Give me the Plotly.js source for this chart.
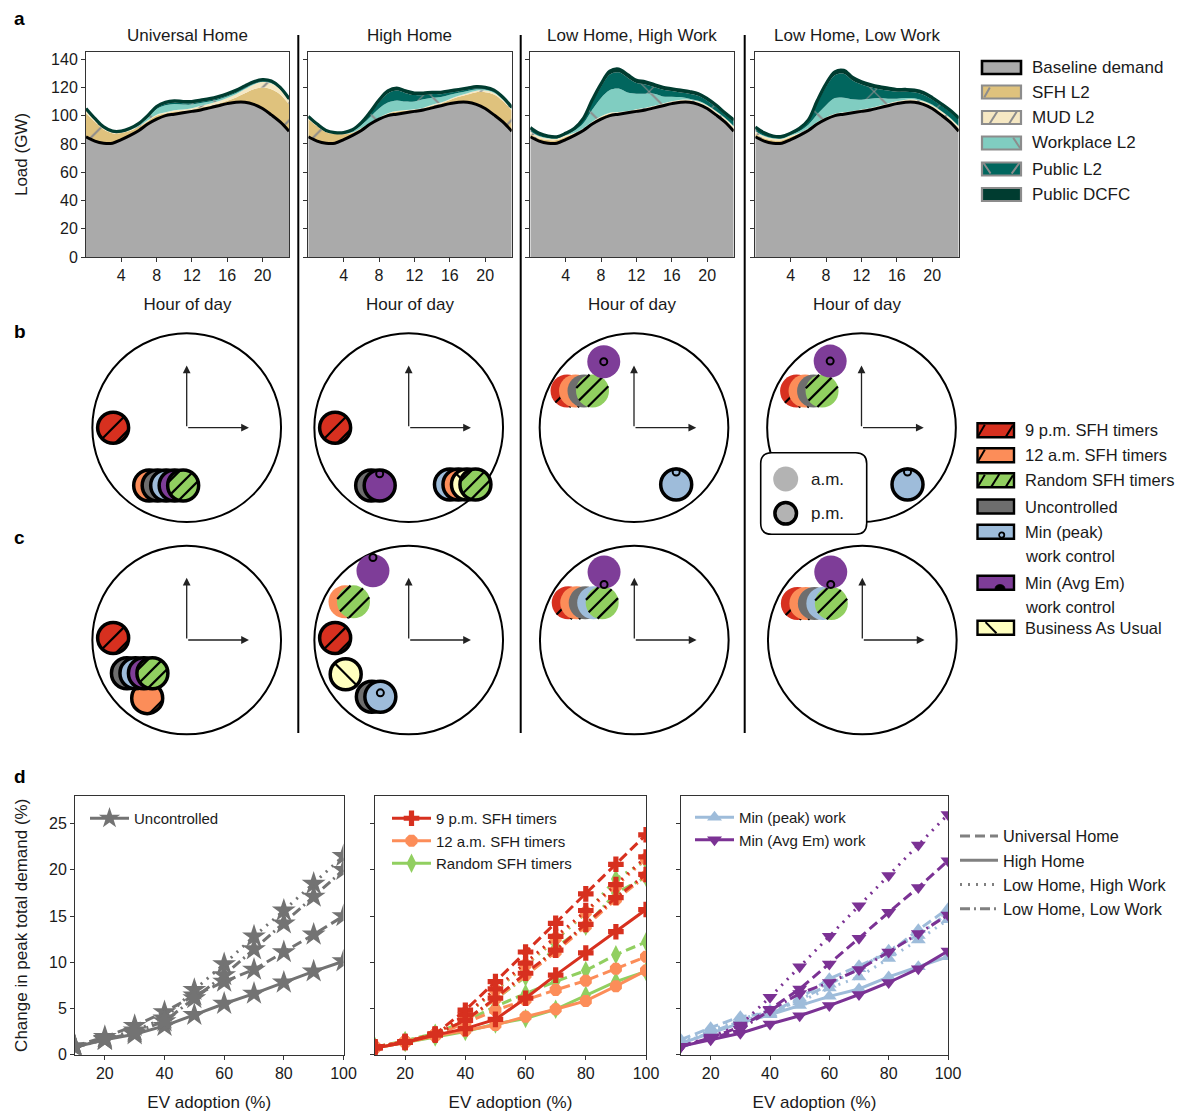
<!DOCTYPE html>
<html>
<head>
<meta charset="utf-8">
<script src="https://cdn.plot.ly/plotly-3.0.1.min.js"></script>
<style>html,body{margin:0;padding:0;background:#fff}</style>
</head>
<body>
<div id="chart" style="width:1181px;height:1112px"></div>
<script>
// ---------------- Panel a: hourly load by charger type (GW) ----------------
const hours = [0,1,2,3,4,5,6,7,8,9,10,11,12,13,14,15,16,17,18,19,20,21,22,23];
const scenarioTitles = ['Universal Home', 'High Home', 'Low Home, High Work', 'Low Home, Low Work'];
const baselineDemand = [85,82,80.5,80.5,83,86,89.5,94,97.5,100,101,102,103,104,105.5,107,108.5,109.5,109.5,108,105,100.5,95.5,89];

const sfhUH  = [16.7,13.6,9.7,7.1,4.7,3.3,2.6,2.1,2.5,1.5,1.9,1.3,1.2,1.7,1.5,1.6,2.1,3.4,6.3,10.6,14.9,18.2,19.5,19.0];
const mudUH  = [2.0,1.5,1.0,0.8,0.6,0.5,0.5,0.6,0.7,0.8,0.9,1.0,1.1,1.2,1.4,1.6,1.9,2.3,2.8,3.3,3.8,4.0,3.5,2.6];
const workUH = [0.2,0.1,0.1,0.1,0.2,0.5,1.0,2.0,4.0,5.0,4.5,3.5,2.5,2.0,1.5,1.2,1.0,0.8,0.6,0.4,0.3,0.3,0.2,0.2];
const pubUH  = [0.3,0.2,0.2,0.1,0.1,0.2,0.3,0.5,0.8,1.0,1.0,1.0,1.0,0.9,0.9,0.9,0.8,0.8,0.7,0.6,0.5,0.5,0.4,0.3];
const dcfcUH = [0.8,0.6,0.5,0.4,0.4,0.5,0.6,0.8,1.0,1.2,1.2,1.2,1.2,1.2,1.2,1.2,1.2,1.2,1.1,1.1,1.0,1.0,0.9,0.9];

const sfhHH  = [12.5,10.5,7.8,6.6,3.9,1.9,1.6,0.8,0.7,1.4,1.9,1.5,1.1,1.1,1.7,1.6,2.6,3.8,5.5,8.6,11.6,14.4,14.8,14.7];
const mudHH  = [0.6,0.5,0.4,0.3,0.2,0.2,0.2,0.2,0.3,0.3,0.3,0.4,0.4,0.5,0.5,0.6,0.7,0.8,0.9,1.0,1.1,1.1,1.0,0.8];
const workHH = [0.3,0.2,0.1,0.1,0.3,1.0,2.0,4.0,6.5,7.5,7.5,6.0,5.5,6.0,5.0,4.0,3.0,2.0,1.5,1.0,0.7,0.5,0.4,0.3];
const pubHH  = [0.3,0.2,0.2,0.1,0.2,0.4,1.0,2.5,4.5,6.5,7.0,6.0,4.5,3.0,2.5,2.0,1.5,1.2,1.0,0.8,0.6,0.5,0.4,0.3];
const dcfcHH = [0.8,0.6,0.5,0.4,0.4,0.5,0.7,1.0,1.5,1.8,1.8,1.6,1.5,1.4,1.3,1.3,1.2,1.2,1.1,1.1,1.0,1.0,0.9,0.9];

const sfhLHHW  = [2.0,1.9,2.2,2.2,2.1,1.3,1.1,1.1,1.5,1.5,0.9,0.6,0.7,0.7,0.6,0.6,0.6,0.6,0.5,0.6,0.7,0.9,1.2,1.8];
const mudLHHW  = [1.6,1.4,1.2,1.0,0.8,0.6,0.5,0.5,0.5,0.6,0.7,0.7,0.8,0.8,0.9,1.0,1.1,1.2,1.3,1.4,1.5,1.6,1.5,1.5];
const workLHHW = [0.4,0.3,0.2,0.2,0.5,1.5,3.5,8.5,13.0,16.0,16.5,13.0,11.0,10.0,8.5,5.0,3.2,1.8,0.7,0.5,0.4,0.3,0.3,0.4];
const pubLHHW  = [1.5,1.1,0.8,0.6,0.6,1.0,2.5,5.5,8.0,11.0,11.5,10.5,7.5,6.6,4.7,4.7,4.0,3.3,3.5,3.5,3.0,2.9,2.3,3.1];
const dcfcLHHW = [1.0,0.8,0.6,0.5,0.5,0.6,0.9,1.4,2.0,2.4,2.4,2.2,2.0,1.9,1.8,1.7,1.6,1.6,1.5,1.5,1.4,1.3,1.2,1.2];

const sfhLHLW  = [2.2,2.0,2.1,2.1,2.0,1.3,1.0,0.9,0.9,0.8,0.7,0.6,0.6,0.6,0.6,0.6,0.6,0.6,0.6,0.7,0.9,1.1,1.4,1.8];
const mudLHLW  = [1.6,1.4,1.2,1.0,0.8,0.6,0.5,0.5,0.5,0.6,0.7,0.7,0.8,0.8,0.9,1.0,1.1,1.2,1.3,1.4,1.5,1.6,1.5,1.5];
const workLHLW = [0.4,0.3,0.2,0.2,0.5,1.2,2.5,5.5,8.5,11.0,10.3,8.2,6.9,6.6,5.5,3.4,1.8,1.2,0.8,0.5,0.4,0.3,0.3,0.3];
const pubLHLW  = [1.8,1.4,1.0,1.0,0.8,1.3,2.6,8.2,13.1,16.2,16.9,13.3,10.7,8.1,6.2,5.8,4.9,4.4,4.3,4.2,3.6,3.7,4.0,4.5];
const dcfcLHLW = [1.0,0.8,0.6,0.5,0.5,0.6,0.9,1.4,2.0,2.4,2.4,2.2,2.0,1.9,1.8,1.7,1.6,1.6,1.5,1.5,1.4,1.3,1.2,1.2];

// ---------------- Panels b, c: peak timing of total demand ----------------
// Each group: peak hour (24 h clock), radial distance, strategies sharing it (drawn left to right).
const peaksB_UH = [
  {hour: 21.0, r: 0.78, members: ['9pm']},
  {hour: 19.1, r: 0.73, members: ['12am', 'uncontrolled', 'minPeak', 'minAvgEm', 'random']}
];
const peaksB_HH = [
  {hour: 21.0, r: 0.78, members: ['9pm']},
  {hour: 19.1, r: 0.73, members: ['uncontrolled', 'minAvgEm'], ring: 0.75},
  {hour: 16.8, r: 0.744, members: ['minPeak', '12am', 'bau', 'random']}
];
const peaksB_LHHW = [
  {hour: 9.96, r: 0.81, members: ['9pm', '12am', 'uncontrolled', 'random']},
  {hour: 11.18, r: 0.77, members: ['minAvgEm']},
  {hour: 16.78, r: 0.75, members: ['minPeak'], ring: 0.8}
];
const peaksB_LHLW = [
  {hour: 9.98, r: 0.79, members: ['9pm', '12am', 'uncontrolled', 'random']},
  {hour: 11.16, r: 0.78, members: ['minAvgEm']},
  {hour: 16.7, r: 0.775, members: ['minPeak'], ring: 0.8}
];
const peaksC_UH = [
  {hour: 21.05, r: 0.78, members: ['9pm']},
  {hour: 19.14, r: 0.745, members: ['12am']},
  {hour: 20.03, r: 0.725, members: ['uncontrolled', 'minPeak', 'minAvgEm', 'random']}
];
const peaksC_HH = [
  {hour: 11.09, r: 0.826, members: ['minAvgEm'], ring: 0.8},
  {hour: 10.03, r: 0.787, members: ['12am', 'random']},
  {hour: 21.05, r: 0.78, members: ['9pm']},
  {hour: 20.05, r: 0.76, members: ['bau']},
  {hour: 19.1, r: 0.717, members: ['uncontrolled', 'minPeak'], ring: 0.25}
];
const peaksC_LHHW = [
  {hour: 9.98, r: 0.804, members: ['9pm', '12am', 'uncontrolled', 'minPeak', 'random']},
  {hour: 11.2, r: 0.788, members: ['minAvgEm'], ring: -0.75}
];
const peaksC_LHLW = [
  {hour: 9.98, r: 0.79, members: ['9pm', '12am', 'uncontrolled', 'minPeak', 'random']},
  {hour: 11.17, r: 0.794, members: ['minAvgEm'], ring: -0.75}
];

// ---------------- Panel d: change in peak total demand (%) ----------------
const evAdoption = [10,20,30,40,50,60,70,80,90,100];
const scenarioOrder = ['Universal Home', 'High Home', 'Low Home, High Work', 'Low Home, Low Work'];

const uncontrolledPeak = [
  [0.9,1.9,3.1,4.6,6.4,7.9,9.2,11.1,13.0,15.0],
  [0.8,1.6,2.2,3.1,4.3,5.5,6.6,7.8,9.0,10.1],
  [0.8,1.7,2.6,3.9,7.0,9.8,12.8,15.6,18.5,21.5],
  [0.8,1.6,2.4,3.6,6.1,8.6,11.4,14.2,17.1,20.0]
];
const timer9pmPeak = [
  [0.8,1.3,2.2,4.8,7.9,11.1,14.2,17.4,20.6,23.8],
  [0.7,1.3,2.1,2.8,3.8,6.1,8.6,11.0,13.3,15.7],
  [0.8,1.4,2.2,4.3,7.1,9.9,12.8,15.6,18.4,21.4],
  [0.8,1.4,2.2,3.7,6.1,8.8,11.3,14.1,17.0,19.5]
];
const timer12amPeak = [
  [0.8,1.4,2.1,3.4,4.8,5.9,7.0,8.0,9.3,10.6],
  [0.7,1.3,2.0,2.6,3.2,4.1,4.9,5.8,7.4,9.1],
  [0.8,1.4,2.2,4.2,7.0,9.7,12.6,15.4,18.2,21.2],
  [0.8,1.4,2.2,3.6,6.0,8.6,11.1,13.9,16.8,19.3]
];
const timerRandomPeak = [
  [0.8,1.5,2.3,3.6,5.2,6.6,7.9,9.1,10.8,12.2],
  [0.7,1.3,1.9,2.5,3.3,3.9,4.9,6.4,7.9,9.0],
  [0.8,1.4,2.2,4.2,6.9,9.6,12.4,15.3,19.0,21.0],
  [0.8,1.4,2.2,3.6,6.0,8.4,11.6,13.9,17.5,19.2]
];
const minPeakWorkPeak = [
  [1.6,2.9,4.1,4.5,6.1,8.2,9.6,11.0,13.5,15.8],
  [1.2,2.3,3.4,4.3,5.3,6.3,7.1,8.4,9.5,10.6],
  [1.3,2.6,3.8,4.8,5.7,7.2,8.4,10.4,12.4,14.6],
  [1.2,2.4,3.6,4.4,5.9,7.6,9.3,11.3,12.9,15.3]
];
const minAvgEmWorkPeak = [
  [0.9,1.8,3.0,4.9,7.1,9.8,12.6,15.4,18.1,21.0],
  [0.9,1.6,2.3,3.3,4.2,5.3,6.5,7.8,9.3,11.2],
  [0.9,1.9,3.2,6.2,9.5,12.8,16.1,19.4,22.7,26.0],
  [0.9,1.7,2.7,4.8,6.6,7.8,9.2,11.1,13.1,15.1]
];

// ================= drawing =================
const W = 1181, H = 1112;
const P = x => x / W;          // pixel -> paper x
const Q = y => 1 - y / H;      // pixel -> paper y
const FONT = 'Liberation Sans, Arial, Helvetica, sans-serif';
const INK = '#1a1a1a';

const traces = [];
const shapes = [];
const annotations = [];
const layout = {
  width: W, height: H, margin: {l: 0, r: 0, t: 0, b: 0},
  paper_bgcolor: '#fff', plot_bgcolor: '#fff',
  font: {family: FONT, size: 16, color: INK},
  showlegend: true, hovermode: false
};

function axName(n) { return n === 1 ? '' : String(n); }

// ----- panel a -----
const chargerTypes = [
  {name: 'SFH L2', color: '#dfc27d', pattern: '/', psize: 64},
  {name: 'MUD L2', color: '#f6e8c3', pattern: '/', psize: 30},
  {name: 'Workplace L2', color: '#80cdc1', pattern: '\\', psize: 56},
  {name: 'Public L2', color: '#01665e', pattern: 'x', psize: 56},
  {name: 'Public DCFC', color: '#003c30', pattern: ''}
];
const scenarioLoads = [
  [sfhUH, mudUH, workUH, pubUH, dcfcUH],
  [sfhHH, mudHH, workHH, pubHH, dcfcHH],
  [sfhLHHW, mudLHHW, workLHHW, pubLHHW, dcfcLHHW],
  [sfhLHLW, mudLHLW, workLHLW, pubLHLW, dcfcLHLW]
];
const aDomX = [[86, 289], [308.3, 511.7], [530.3, 733.7], [755.3, 958.7]];
const aDomY = [Q(257), Q(52)];

scenarioLoads.forEach((loads, i) => {
  const n = i + 1, xa = 'x' + axName(n), ya = 'y' + axName(n);
  const sg = 'load' + n;
  traces.push({x: hours, y: baselineDemand, xaxis: xa, yaxis: ya, stackgroup: sg, mode: 'lines',
    line: {width: 0, shape: 'spline'}, fillcolor: '#aaaaaa', showlegend: false, hoverinfo: 'skip'});
  loads.forEach((vals, k) => {
    const ct = chargerTypes[k];
    const tr = {x: hours, y: vals, xaxis: xa, yaxis: ya, stackgroup: sg, mode: 'lines', name: ct.name,
      line: {width: k === 4 ? 3.2 : 0, color: '#003c30', shape: 'spline'},
      fillcolor: ct.color, showlegend: false, hoverinfo: 'skip'};
    if (ct.pattern) {
      tr.fillpattern = {shape: ct.pattern, size: ct.psize, solidity: 2 / ct.psize,
        fgcolor: '#8c8c8c', bgcolor: ct.color, fgopacity: 1};
    }
    traces.push(tr);
  });
  traces.push({x: hours, y: baselineDemand, xaxis: xa, yaxis: ya, mode: 'lines', name: 'Baseline demand',
    line: {color: '#000', width: 3, shape: 'spline'}, showlegend: false, hoverinfo: 'skip'});

  layout['xaxis' + axName(n)] = {
    domain: [P(aDomX[i][0]), P(aDomX[i][1])], anchor: 'y' + axName(n), range: [0, 23],
    tickvals: [4, 8, 12, 16, 20], ticks: 'outside', ticklen: 4, tickcolor: '#333',
    showline: true, mirror: true, linecolor: '#333', linewidth: 1, showgrid: false, zeroline: false,
    tickfont: {size: 16}, title: {text: 'Hour of day', standoff: 14, font: {size: 17}}
  };
  layout['yaxis' + axName(n)] = {
    domain: aDomY, anchor: 'x' + axName(n), range: [0, 145],
    tickvals: [0, 20, 40, 60, 80, 100, 120, 140], ticks: 'outside', ticklen: 4, tickcolor: '#333',
    showline: true, mirror: true, linecolor: '#333', linewidth: 1, showgrid: false, zeroline: false,
    showticklabels: i === 0, tickfont: {size: 16},
    title: i === 0 ? {text: 'Load (GW)', standoff: 19, font: {size: 17}} : {text: ''}
  };
  annotations.push({xref: 'paper', yref: 'paper', x: P((aDomX[i][0] + aDomX[i][1]) / 2), y: Q(35),
    text: scenarioTitles[i], showarrow: false, font: {size: 17}, xanchor: 'center', yanchor: 'middle'});
});

// ----- panels b, c -----
const strategyStyle = {
  '9pm':          {color: '#d7301f', hatch: {dir: 1, offs: [0, 0.8]}},
  '12am':         {color: '#fc8d59', hatch: {dir: 1, offs: [0.8]}},
  'random':       {color: '#91cf60', hatch: {dir: 1, offs: [-0.82, -0.17, 0.48]}},
  'uncontrolled': {color: '#6e6e6e'},
  'minPeak':      {color: '#9ebcda', ring: true},
  'minAvgEm':     {color: '#7e3d98', ring: true},
  'bau':          {color: '#ffffbf', hatch: {dir: -1, offs: [0]}}
};
const diagramRows = [
  [peaksB_UH, peaksB_HH, peaksB_LHHW, peaksB_LHLW],
  [peaksC_UH, peaksC_HH, peaksC_LHHW, peaksC_LHLW]
];
const diagramCenters = [
  [[186.7, 427.7], [408.7, 427.7], [634.0, 427.7], [861.5, 427.7]],
  [[186.7, 640.0], [408.7, 640.0], [634.3, 640.0], [862.3, 640.0]]
];
const HALF = 1.06, BOX = 200, PXU = BOX / (2 * HALF), SLOT = 0.09;

diagramRows.forEach((row, ri) => {
  row.forEach((groups, j) => {
    const n = 5 + ri * 4 + j, xa = 'x' + n, ya = 'y' + n;
    const [cx, cy] = diagramCenters[ri][j];
    layout['xaxis' + n] = {domain: [P(cx - BOX / 2), P(cx + BOX / 2)], range: [-HALF, HALF], anchor: ya, visible: false, fixedrange: true};
    layout['yaxis' + n] = {domain: [Q(cy + BOX / 2), Q(cy - BOX / 2)], range: [-HALF, HALF], anchor: xa, visible: false, fixedrange: true};
    shapes.push({type: 'circle', xref: xa, yref: ya, x0: -1, x1: 1, y0: -1, y1: 1, layer: 'below',
      line: {color: '#000', width: 2}, fillcolor: 'rgba(0,0,0,0)'});
    annotations.push({xref: xa, yref: ya, axref: xa, ayref: ya, x: 0, y: 0.66, ax: 0, ay: 0, text: '',
      showarrow: true, arrowhead: 2, arrowsize: 1.2, arrowwidth: 1.3, arrowcolor: '#222'});
    annotations.push({xref: xa, yref: ya, axref: xa, ayref: ya, x: 0.66, y: 0, ax: 0, ay: 0, text: '',
      showarrow: true, arrowhead: 2, arrowsize: 1.2, arrowwidth: 1.3, arrowcolor: '#222'});

    groups.forEach(g => {
      const th = (g.hour % 12) / 12 * 2 * Math.PI;
      const bx = g.r * Math.sin(th), by = g.r * Math.cos(th);
      const pm = g.hour >= 12;
      g.members.forEach((s, k) => {
        const st = strategyStyle[s];
        const x = bx + k * SLOT, y = by;
        traces.push({x: [x], y: [y], xaxis: xa, yaxis: ya, mode: 'markers', cliponaxis: false,
          showlegend: false, hoverinfo: 'skip',
          marker: {size: pm ? 31 : 33, color: st.color, line: {color: '#000', width: pm ? 3.5 : 0}}});
        const rad = (pm ? 15.5 : 16.5) / PXU;
        if (st.hatch) {
          const s2 = Math.SQRT1_2, d = st.hatch.dir;
          const t = [s2, d * s2], nrm = [d * s2, -s2];
          const xs = [], ys = [];
          st.hatch.offs.forEach(o => {
            const L = rad * Math.sqrt(1 - o * o);
            const mx = x + o * rad * nrm[0], my = y + o * rad * nrm[1];
            xs.push(mx - L * t[0], mx + L * t[0], null);
            ys.push(my - L * t[1], my + L * t[1], null);
          });
          traces.push({x: xs, y: ys, xaxis: xa, yaxis: ya, mode: 'lines', cliponaxis: false,
            showlegend: false, hoverinfo: 'skip', line: {color: '#000', width: 2.2}});
        }
        if (st.ring) {
          traces.push({x: [x], y: [y + (g.ring || 0) * rad], xaxis: xa, yaxis: ya, mode: 'markers',
            cliponaxis: false, showlegend: false, hoverinfo: 'skip',
            marker: {symbol: 'circle-open', size: 7, color: '#000', line: {width: 2, color: '#000'}}});
        }
      });
    });
  });
});

// ----- panel d -----
const dashOf = ['10px,5px', 'solid', '2px,6px', '10px,4px,2px,4px'];
const dDomX = [[75, 343.5], [375, 646], [681, 948]];
const dDomY = [Q(1054.5), Q(796)];
const dGroups = [
  [{name: 'Uncontrolled', data: uncontrolledPeak, color: '#737373', symbol: 'star', size: 18}],
  [{name: 'Random SFH timers', data: timerRandomPeak, color: '#91cf60', symbol: 'diamond-tall', size: 14, rank: 3},
   {name: '12 a.m. SFH timers', data: timer12amPeak, color: '#fc8d59', symbol: 'octagon', size: 13, rank: 2},
   {name: '9 p.m. SFH timers', data: timer9pmPeak, color: '#d7301f', symbol: 'cross', size: 13, rank: 1}],
  [{name: 'Min (peak) work', data: minPeakWorkPeak, color: '#9ebcda', symbol: 'triangle-up', size: 13, rank: 1},
   {name: 'Min (Avg Em) work', data: minAvgEmWorkPeak, color: '#7b3294', symbol: 'triangle-down', size: 13, rank: 2}]
];
const legendSpots = [[85, 802], [387, 802], [690, 801]];

dGroups.forEach((grp, i) => {
  const n = 13 + i, xa = 'x' + n, ya = 'y' + n;
  const lg = 'legend' + (i === 0 ? '' : String(i + 1));
  grp.forEach(sr => {
    sr.data.forEach((vals, si) => {
      traces.push({x: evAdoption, y: vals, xaxis: xa, yaxis: ya, mode: 'lines+markers', name: sr.name,
        line: {color: sr.color, width: 3, dash: dashOf[si]},
        marker: {symbol: sr.symbol, size: sr.size, color: sr.color},
        cliponaxis: true, hoverinfo: 'skip',
        showlegend: si === 1, legend: lg, legendrank: sr.rank || 1});
    });
  });
  layout['xaxis' + n] = {
    domain: [P(dDomX[i][0]), P(dDomX[i][1])], anchor: ya, range: [10, 100],
    tickvals: [20, 40, 60, 80, 100], ticks: 'outside', ticklen: 4, tickcolor: '#333',
    showline: true, mirror: true, linecolor: '#333', linewidth: 1, showgrid: false, zeroline: false,
    tickfont: {size: 16}, title: {text: 'EV adoption (%)', standoff: 15, font: {size: 17}}
  };
  layout['yaxis' + n] = {
    domain: dDomY, anchor: xa, range: [0, 28], tickvals: [0, 5, 10, 15, 20, 25],
    ticks: 'outside', ticklen: 4, tickcolor: '#333',
    showline: true, mirror: true, linecolor: '#333', linewidth: 1, showgrid: false, zeroline: false,
    showticklabels: i === 0, tickfont: {size: 16},
    title: i === 0 ? {text: 'Change in peak total demand (%)', standoff: 17, font: {size: 17}} : {text: ''}
  };
  layout[lg] = {x: P(legendSpots[i][0]), y: Q(legendSpots[i][1]), xanchor: 'left', yanchor: 'top',
    bgcolor: 'rgba(0,0,0,0)', borderwidth: 0, font: {size: 15}, itemwidth: 39, tracegroupgap: 0};
});

// line-style key for the four scenarios
scenarioOrder.forEach((nm, si) => {
  traces.push({x: [null], y: [null], xaxis: 'x13', yaxis: 'y13', mode: 'lines', name: nm,
    line: {color: '#808080', width: 3, dash: dashOf[si]}, showlegend: true, legend: 'legend4',
    legendrank: si + 1, hoverinfo: 'skip'});
});
layout.legend4 = {x: P(955), y: Q(819), xanchor: 'left', yanchor: 'top', bgcolor: 'rgba(0,0,0,0)',
  borderwidth: 0, font: {size: 16.3}, itemwidth: 38, tracegroupgap: 0};

// ----- keys for panels a and b/c -----
function rectPx(x0, y0, x1, y1, fill, edge, ew, layer) {
  shapes.push({type: 'rect', xref: 'paper', yref: 'paper', x0: P(x0), x1: P(x1), y0: Q(y1), y1: Q(y0),
    fillcolor: fill, line: {color: edge, width: ew}, layer: layer || 'above'});
}
function linePx(x0, y0, x1, y1, color, width) {
  shapes.push({type: 'line', xref: 'paper', yref: 'paper', x0: P(x0), x1: P(x1), y0: Q(y0), y1: Q(y1),
    line: {color: color, width: width}, layer: 'above'});
}
function circlePx(cx, cy, r, fill, edge, ew) {
  shapes.push({type: 'circle', xref: 'paper', yref: 'paper', x0: P(cx - r), x1: P(cx + r), y0: Q(cy + r), y1: Q(cy - r),
    fillcolor: fill, line: {color: edge, width: ew}, layer: 'above'});
}
function textPx(x, y, text, size, extra) {
  annotations.push(Object.assign({xref: 'paper', yref: 'paper', x: P(x), y: Q(y), text: text, showarrow: false,
    xanchor: 'left', yanchor: 'middle', font: {size: size}}, extra || {}));
}

// panel a key
const aKey = [
  {name: 'Baseline demand', color: '#aaaaaa', edge: '#000', hatch: []},
  {name: 'SFH L2', color: '#dfc27d', edge: '#8c8c8c', hatch: [[0.06, 0.9, 0.2, 0.15]]},
  {name: 'MUD L2', color: '#f6e8c3', edge: '#8c8c8c', hatch: [[0.19, 1, 0.4, 0], [0.69, 1, 0.9, 0]]},
  {name: 'Workplace L2', color: '#80cdc1', edge: '#8c8c8c', hatch: [[0.8, 0.1, 0.98, 0.9]]},
  {name: 'Public L2', color: '#01665e', edge: '#8c8c8c', hatch: [[0.03, 0, 0.22, 0.85], [0.76, 0.85, 0.97, 0]]},
  {name: 'Public DCFC', color: '#003c30', edge: '#8c8c8c', hatch: []}
];
const aKeyY = [67.5, 92, 117.5, 143, 169, 194.5];
aKey.forEach((it, k) => {
  const x0 = 982, x1 = 1021, y0 = aKeyY[k] - 6.5, y1 = aKeyY[k] + 6.5;
  rectPx(x0, y0, x1, y1, it.color, it.edge, k === 0 ? 2.6 : 2.2);
  it.hatch.forEach(h => linePx(x0 + h[0] * (x1 - x0), y0 + h[1] * (y1 - y0), x0 + h[2] * (x1 - x0), y0 + h[3] * (y1 - y0), '#8c8c8c', 2));
  textPx(1030, aKeyY[k], it.name, 17);
});

// panels b/c key
const bcKey = [
  {name: '9 p.m. SFH timers', key: '9pm', y: 430.3, hatch: [[0.02, 0.9, 0.2, 0.1], [0.78, 0.95, 0.97, 0.15]]},
  {name: '12 a.m. SFH timers', key: '12am', y: 455.3, hatch: [[0.02, 0.9, 0.2, 0.1]]},
  {name: 'Random SFH timers', key: 'random', y: 480.3, hatch: [[0.02, 0.9, 0.2, 0.1], [0.38, 0.95, 0.6, 0.05], [0.78, 0.95, 0.97, 0.15]]},
  {name: 'Uncontrolled', key: 'uncontrolled', y: 506.5, hatch: []},
  {name: 'Min (peak)', key: 'minPeak', y: 531.7, hatch: [], sub: 'work control', subY: 555.7},
  {name: 'Min (Avg Em)', key: 'minAvgEm', y: 582.7, hatch: [], sub: 'work control', subY: 606.7},
  {name: 'Business As Usual', key: 'bau', y: 627.7, hatch: [[0.22, 0.1, 0.52, 0.9]]}
];
bcKey.forEach(it => {
  const x0 = 977.5, x1 = 1014, y0 = it.y - 7, y1 = it.y + 7;
  rectPx(x0, y0, x1, y1, strategyStyle[it.key].color, '#000', 2.4);
  it.hatch.forEach(h => linePx(x0 + h[0] * (x1 - x0), y0 + h[1] * (y1 - y0), x0 + h[2] * (x1 - x0), y0 + h[3] * (y1 - y0), '#000', 2));
  if (it.key === 'minPeak') circlePx(1001.7, it.y + 3.3, 2.6, 'rgba(0,0,0,0)', '#000', 1.8);
  if (it.key === 'minAvgEm') {
    const cx = 1000, cy = y1, r = 5;
    shapes.push({type: 'path', xref: 'paper', yref: 'paper', layer: 'above', fillcolor: '#000', line: {color: '#000', width: 1},
      path: `M ${P(cx - r)} ${Q(cy)} Q ${P(cx - r)} ${Q(cy - r)} ${P(cx)} ${Q(cy - r)} Q ${P(cx + r)} ${Q(cy - r)} ${P(cx + r)} ${Q(cy)} Z`});
  }
  textPx(1022.5, it.y, it.name, 16.5);
  if (it.sub) textPx(1022.5, it.subY, it.sub, 16.5);
});

// a.m. / p.m. key inside the last b diagram
(function () {
  const x0 = 760.7, y0 = 452.7, x1 = 866.7, y1 = 534.3, r = 11;
  const path = `M ${P(x0 + r)} ${Q(y0)} L ${P(x1 - r)} ${Q(y0)} Q ${P(x1)} ${Q(y0)} ${P(x1)} ${Q(y0 + r)} ` +
    `L ${P(x1)} ${Q(y1 - r)} Q ${P(x1)} ${Q(y1)} ${P(x1 - r)} ${Q(y1)} L ${P(x0 + r)} ${Q(y1)} ` +
    `Q ${P(x0)} ${Q(y1)} ${P(x0)} ${Q(y1 - r)} L ${P(x0)} ${Q(y0 + r)} Q ${P(x0)} ${Q(y0)} ${P(x0 + r)} ${Q(y0)} Z`;
  shapes.push({type: 'path', xref: 'paper', yref: 'paper', path: path, fillcolor: '#fff',
    line: {color: '#000', width: 1.6}, layer: 'above'});
  circlePx(785.7, 479, 12.5, '#b3b3b3', 'rgba(0,0,0,0)', 0);
  circlePx(785.7, 513.3, 10.8, '#b3b3b3', '#000', 3.5);
  textPx(808.5, 479, 'a.m.', 17);
  textPx(808.5, 513.3, 'p.m.', 17);
})();

// column separators
[298.3, 520.7, 744.7].forEach(x => {
  shapes.push({type: 'line', xref: 'paper', yref: 'paper', x0: P(x), x1: P(x), y0: Q(35), y1: Q(733),
    line: {color: '#000', width: 2}, layer: 'above'});
});

// panel letters
[['a', 18], ['b', 332], ['c', 537], ['d', 776]].forEach(([t, y]) => {
  annotations.push({xref: 'paper', yref: 'paper', x: P(12), y: Q(y), text: '<b>' + t + '</b>', showarrow: false,
    xanchor: 'left', yanchor: 'middle', font: {size: 19, color: '#000'}});
});

layout.shapes = shapes;
layout.annotations = annotations;

Plotly.newPlot('chart', traces, layout, {staticPlot: true, displayModeBar: false});
</script>
</body>
</html>
